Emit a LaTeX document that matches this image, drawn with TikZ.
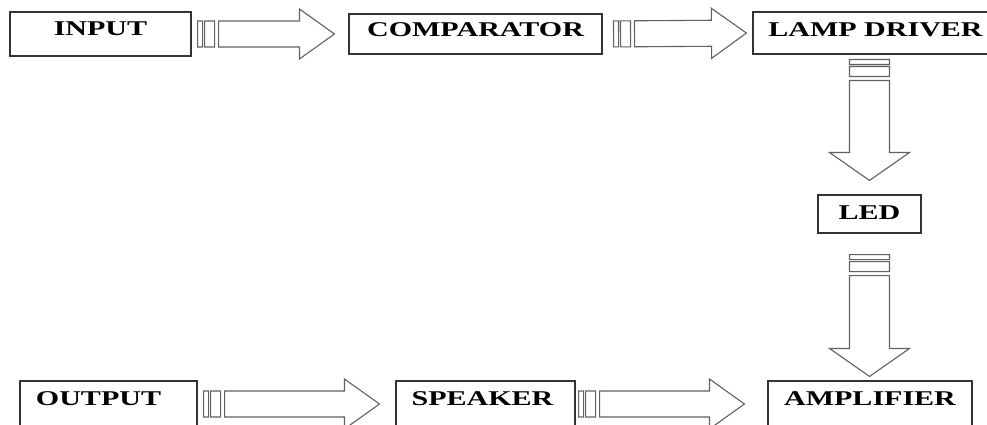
\documentclass[tikz,border=0pt]{standalone}
\usepackage{fontspec}
\newfontfamily\blkfont{Liberation Serif}[FakeStretch=1.43]
\usetikzlibrary{calc}

\begin{document}
\begin{tikzpicture}[
    x=1pt, y=-1pt,
    blk/.style={draw=black!80, line width=1.1pt, fill=white, inner sep=0pt,
      font=\blkfont\bfseries\fontsize{21}{24}\selectfont,
      text height=14pt, text depth=8pt},
    arrowln/.style={draw=black!62, line width=1.1pt, fill=white, line join=miter},
    gapa/.store in=\argapa, gapb/.store in=\argapb,
    shaft/.store in=\arshaft, tiphalf/.store in=\arhead, tiplen/.store in=\arlen,
    gapa=6pt, gapb=6pt, shaft=13pt, tiphalf=25pt, tiplen=35pt,
    vert/.style={shaft=20pt, tiphalf=40pt, tiplen=28pt},
    striped/.style={to path={
      ($(\tikztostart)!\argapa!(\tikztotarget)$) coordinate (aS)
      ($(\tikztotarget)!\argapb!(\tikztostart)$) coordinate (aT)
      % the two bars
      ($(aS)!0pt!(aT)!\arshaft!90:(aT)$) -- ($(aS)!5pt!(aT)!\arshaft!90:(aT)$)
        -- ($(aS)!5pt!(aT)!\arshaft!-90:(aT)$) -- ($(aS)!0pt!(aT)!\arshaft!-90:(aT)$) -- cycle
      ($(aS)!7pt!(aT)!\arshaft!90:(aT)$) -- ($(aS)!17pt!(aT)!\arshaft!90:(aT)$)
        -- ($(aS)!17pt!(aT)!\arshaft!-90:(aT)$) -- ($(aS)!7pt!(aT)!\arshaft!-90:(aT)$) -- cycle
      % shaft and head
      ($(aS)!21pt!(aT)!\arshaft!90:(aT)$)
        -- ($(aT)!\arlen!(aS)!\arshaft!-90:(aS)$)
        -- ($(aT)!\arlen!(aS)!\arhead!-90:(aS)$)
        -- (aT)
        -- ($(aT)!\arlen!(aS)!\arhead!90:(aS)$)
        -- ($(aT)!\arlen!(aS)!\arshaft!90:(aS)$)
        -- ($(aS)!21pt!(aT)!\arshaft!-90:(aT)$) -- cycle
    }}
]
\useasboundingbox (0,0) rectangle (987,425);
\clip (0,0) rectangle (987,425);

% --- top row ---
\node[blk, minimum width=181pt, minimum height=44pt, text depth=10pt] (input) at (100.5,34) {INPUT};
\node[blk, minimum width=253pt, minimum height=40pt] (comparator) at (475.5,34) {COMPARATOR};
\node[blk, minimum width=245pt, minimum height=42pt, text depth=6pt] (lamp) at (875.5,33) {LAMP DRIVER};

% --- right column ---
\node[blk, minimum width=103pt, minimum height=38pt, text depth=4pt] (led) at (869.5,214) {LED};

% --- bottom row ---
\node[blk, minimum width=177pt, minimum height=46pt, text depth=11pt] (output) at (108.5,404) {OUTPUT\hspace*{20pt}};
\node[blk, minimum width=179pt, minimum height=46pt, text depth=11pt] (speaker) at (485.5,404) {SPEAKER\hspace*{6pt}};
\node[blk, minimum width=204pt, minimum height=46pt, text depth=11pt] (amplifier) at (870,404) {AMPLIFIER};

% --- striped arrows ---
\draw[arrowln] (input.east) to[striped, gapa=6pt, gapb=14pt] (comparator.west);
\draw[arrowln] (comparator.east) to[striped, gapa=11pt, gapb=6pt] (lamp.west);
\draw[arrowln] (lamp.south -| led.north) to[striped, vert, gapa=5pt, gapb=14pt] (led.north);
\draw[arrowln] (led.south) to[striped, vert, gapa=21pt, gapb=4pt] (amplifier.north -| led.south);
\draw[arrowln] (output.east) to[striped, gapa=6pt, gapb=16pt] (speaker.west);
\draw[arrowln] (speaker.east) to[striped, gapa=3pt, gapb=23pt] (amplifier.west);

\end{tikzpicture}
\end{document}
